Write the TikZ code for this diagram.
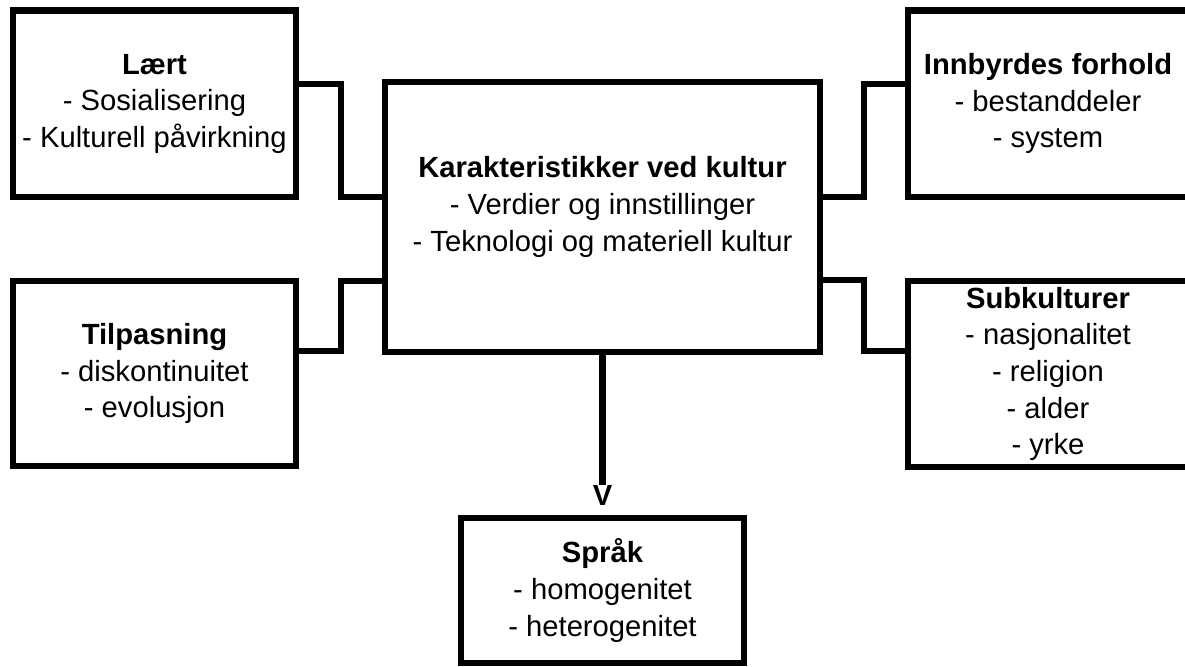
\documentclass[tikz,border=0pt]{standalone}
\usepackage{fontspec}
\setmainfont{Liberation Sans}
\tikzset{
  boks/.style={draw, line width=3.2pt, inner sep=0pt, align=center},
  wire/.style={line width=3.2pt},
  vtip/.style={inner sep=0pt, font=\fontsize{14.6pt}{18pt}\selectfont\bfseries},
}
\begin{document}
\begin{tikzpicture}[x=0.5pt, y=-0.5pt, font=\fontsize{14.6pt}{18.3pt}\selectfont]
\useasboundingbox (0,0) rectangle (1185,666);
% boksene
\node[boks, minimum width=141.5pt, minimum height=93.25pt] (laert) at (154.5,103.75) {\textbf{Lært}\\- Sosialisering\\- Kulturell påvirkning};
\node[boks, minimum width=141.5pt, minimum height=92.5pt] (tilp) at (154.5,373.5) {\textbf{Tilpasning}\\- diskontinuitet\\- evolusjon};
\node[boks, minimum width=140pt, minimum height=93.25pt] (innb) at (1048,103.75) {\textbf{Innbyrdes forhold}\\- bestanddeler\\- system};
\node[boks, minimum width=140pt, minimum height=93pt] (subk) at (1048,374) {\textbf{Subkulturer}\\- nasjonalitet\\- religion\\- alder\\- yrke};
\node[boks, minimum width=217.5pt, minimum height=135pt] (kar) at (602.5,217) {};
\node[align=center, inner sep=0pt] (kartxt) at ([yshift=5pt]kar.center) {\textbf{Karakteristikker ved kultur}\\- Verdier og innstillinger\\- Teknologi og materiell kultur};
\node[boks, minimum width=141.5pt, minimum height=72.5pt] (sprak) at (602.5,590.5) {\textbf{Språk}\\- homogenitet\\- heterogenitet};
% forbindelser
\draw[wire] (laert.east |- 0,84) -| (341,197) -- (kar.west |- 0,197);
\draw[wire] (tilp.east |- 0,351) -| (341,281) -- (kar.west |- 0,281);
\draw[wire] (kar.east |- 0,197) -| (864,84) -- (innb.west |- 0,84);
\draw[wire] (kar.east |- 0,280) -| (864,351) -- (subk.west |- 0,351);
% pil ned
\node[vtip, anchor=north] (v) at (602.5,485) {V};
\draw[wire] (kar.south) -- (v.north);
\end{tikzpicture}
\end{document}
